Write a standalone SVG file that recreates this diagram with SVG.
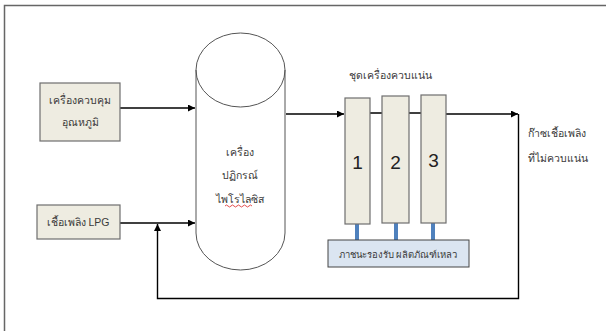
<svg xmlns="http://www.w3.org/2000/svg" width="606" height="331" viewBox="0 0 606 331">
<style>
text{font-family:"Liberation Sans","Noto Sans",sans-serif;font-size:10.5px;fill:#3a3a3a;text-anchor:middle}
.box{fill:#eeece1;stroke:#6e6e6e;stroke-width:1.2}
.ln{fill:none;stroke:#000;stroke-width:1.4}
.blue{stroke:#4f81bd;stroke-width:4}
.num{font-size:19px;fill:#222}
</style>
<defs>
<marker id="ah" viewBox="0 0 10 10" refX="10" refY="5" markerWidth="7" markerHeight="7" markerUnits="userSpaceOnUse" orient="auto">
<path d="M0,0 L10,5 L0,10 z" fill="#000"/>
</marker>
</defs>
<rect width="606" height="331" fill="#fff"/>
<path d="M4.5,331 V5.5 H606" fill="none" stroke="#666" stroke-width="1.5"/>
<g id="connectors">
<path class="ln" d="M120,108 H195" marker-end="url(#ah)"/>
<path class="ln" d="M120,223 H195" marker-end="url(#ah)"/>
<path class="ln" d="M286,114 H344" marker-end="url(#ah)"/>
<path class="ln" d="M370,113 H382 M409,113 H421"/>
<path class="ln" d="M446,114 H518" marker-end="url(#ah)"/>
<path class="ln" d="M518.5,114 V298.5 H157.5 V224" marker-end="url(#ah)"/>
<path class="blue" d="M357,224 V240 M396,223 V240 M433,223 V240"/>
</g>
<g id="temp-controller">
<rect class="box" x="40" y="83" width="80" height="58"/>
<text x="80" y="104">เครื่องควบคุม</text>
<text x="80" y="126">อุณหภูมิ</text>
</g>
<g id="lpg">
<rect class="box" x="37" y="205" width="83" height="34"/>
<text x="78" y="226">เชื้อเพลิง LPG</text>
</g>
<g id="reactor">
<path d="M196,70 V233 A44.5,37 0 0 0 285,233 V70 A44.5,37 0 0 0 196,70 Z" fill="#fff" stroke="#555" stroke-width="1"/>
<path d="M196,70 A44.5,37 0 0 0 285,70" fill="none" stroke="#555" stroke-width="1"/>
<text x="240" y="156">เครื่อง</text>
<text x="240" y="179">ปฏิกรณ์</text>
<text x="240" y="203">ไพโรไลซิส</text>
<path d="M225,206 q1.5,-2 3,0 t3,0 t3,0 t3,0 t3,0 t3,0 t3,0 t3,0 t3,0" fill="none" stroke="#d22" stroke-width="0.8"/>
</g>
<g id="condensers">
<text x="390" y="79">ชุดเครื่องควบแน่น</text>
<g id="condenser-1"><rect class="box" x="345" y="98" width="25" height="126"/><text class="num" x="357.5" y="169">1</text></g>
<g id="condenser-2"><rect class="box" x="382" y="96" width="27" height="127"/><text class="num" x="395.5" y="169">2</text></g>
<g id="condenser-3"><rect class="box" x="421" y="95" width="25" height="128"/><text class="num" x="433.5" y="167">3</text></g>
</g>
<g id="tray">
<rect x="328" y="240" width="141" height="27" fill="#dbe5f1" stroke="#444" stroke-width="1"/>
<text x="398" y="257.5" style="font-size:9.5px">ภาชนะรองรับ ผลิตภัณฑ์เหลว</text>
</g>
<g id="gas-out">
<text x="528" y="137" style="text-anchor:start">ก๊าซเชื้อเพลิง</text>
<text x="528" y="162" style="text-anchor:start">ที่ไม่ควบแน่น</text>
</g>
</svg>
